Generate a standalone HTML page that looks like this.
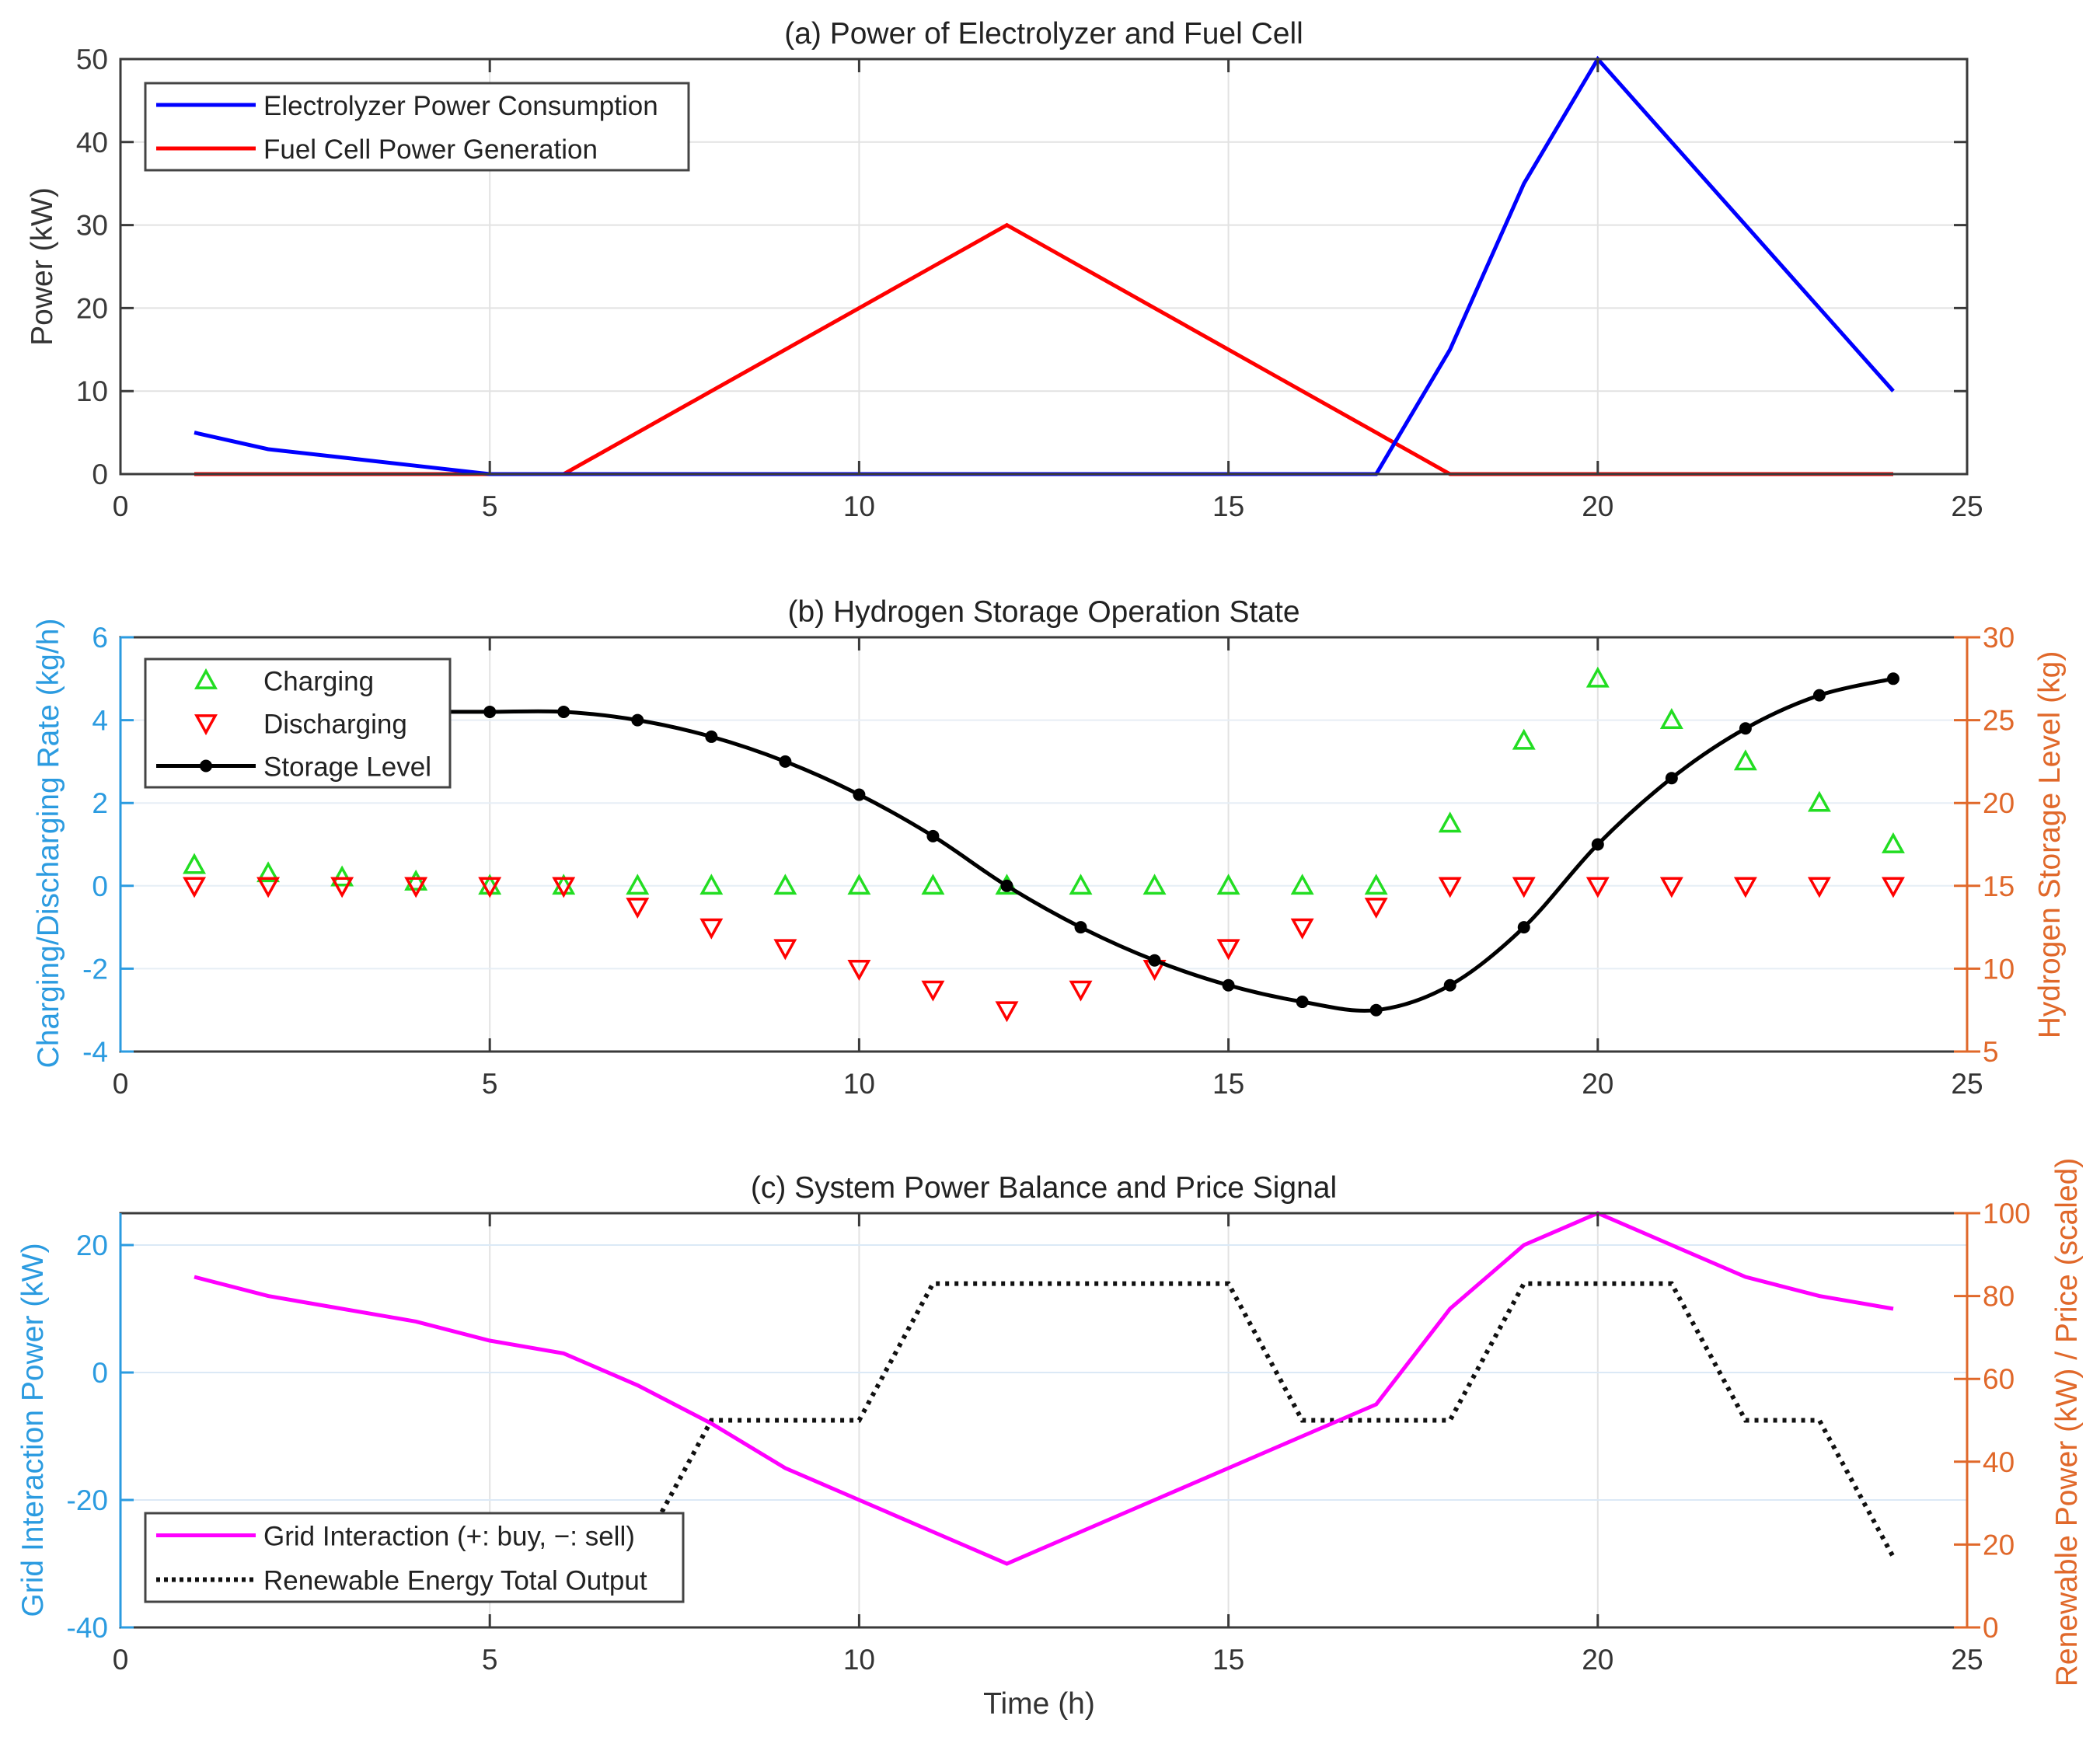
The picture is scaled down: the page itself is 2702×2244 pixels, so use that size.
<!DOCTYPE html>
<html><head><meta charset="utf-8"><style>
html,body{margin:0;padding:0;background:#fff}
svg{display:block;font-family:"Liberation Sans",Arial,sans-serif}
</style></head><body>
<svg id="chart" xmlns="http://www.w3.org/2000/svg" width="2702" height="2244" viewBox="0 0 2702 2244"></svg>
<script>
const hours=[1,2,3,4,5,6,7,8,9,10,11,12,13,14,15,16,17,18,19,20,21,22,23,24];
const xTicks=[0,5,10,15,20,25];
const electrolyzer=[5,3,2,1,0,0,0,0,0,0,0,0,0,0,0,0,0,15,35,50,40,30,20,10];
const fuelCell=[0,0,0,0,0,0,5,10,15,20,25,30,25,20,15,10,5,0,0,0,0,0,0,0];
const aTicks=[0,10,20,30,40,50];
const charging=[0.5,0.3,0.2,0.1,0,0,0,0,0,0,0,0,0,0,0,0,0,1.5,3.5,5,4,3,2,1];
const discharging=[0,0,0,0,0,0,-0.5,-1,-1.5,-2,-2.5,-3,-2.5,-2,-1.5,-1,-0.5,0,0,0,0,0,0,0];
const storageLevel=[25.5,25.5,25.5,25.5,25.5,25.5,25,24,22.5,20.5,18,15,12.5,10.5,9,8,7.5,9,12.5,17.5,21.5,24.5,26.5,27.5];
const bLeftTicks=[-4,-2,0,2,4,6];
const bRightTicks=[5,10,15,20,25,30];
const gridPower=[15,12,10,8,5,3,-2,-8,-15,-20,-25,-30,-25,-20,-15,-10,-5,10,20,25,20,15,12,10];
const renewable=[17,17,17,17,17,17,17,50,50,50,83,83,83,83,83,50,50,50,83,83,83,50,50,17];
const cLeftTicks=[-40,-20,0,20];
const cRightTicks=[0,20,40,60,80,100];

const svg=document.getElementById('chart');
const NS='http://www.w3.org/2000/svg';
function mk(tag,attrs,parent,text){const e=document.createElementNS(NS,tag);for(const k in attrs)e.setAttribute(k,attrs[k]);if(text!==undefined)e.textContent=text;(parent||svg).appendChild(e);return e;}
const L=155,R=2531;
const BLUE='#2b9be0',ORANGE='#e0682a',AX='#3a3a3a';
const xs=v=>L+(v-0)/25*(R-L);
function lin(d0,d1,p0,p1){return v=>p0+(v-d0)/(d1-d0)*(p1-p0);}

function panel(cfg){
  const g=mk('g',{});
  
  
  const {top,bot}=cfg;
  xTicks.forEach(t=>{const gl=mk('line',{x1:xs(t),x2:xs(t),y1:top,y2:bot,stroke:'#e2e2e2','stroke-width':2},g);});
  cfg.yTicks.forEach(t=>{const y=cfg.ys(t);const gl=mk('line',{x1:L,x2:R,y1:y,y2:y,stroke:cfg.gridColor,'stroke-width':2},g);});
  return g;
}
function frame(g,cfg){
  const {top,bot}=cfg;
  const box=mk('rect',{x:L,y:top,width:R-L,height:bot-top,fill:'none',stroke:AX,'stroke-width':3},g);
  
  xTicks.forEach(t=>{const x=xs(t);
    mk('line',{x1:x,x2:x,y1:bot,y2:bot-17,stroke:AX,'stroke-width':3},g);
    mk('line',{x1:x,x2:x,y1:top,y2:top+17,stroke:AX,'stroke-width':3},g);
    const tl=mk('text',{x:x,y:bot+54,'text-anchor':'middle','font-size':37,fill:'#333'},g,String(t));
    
  });
  const lc=cfg.leftColor;
  if(lc!==AX){mk('line',{x1:L,x2:L,y1:top,y2:bot,stroke:lc,'stroke-width':3},g);}
  cfg.yTicks.forEach(t=>{const y=cfg.ys(t);
    mk('line',{x1:L,x2:L+17,y1:y,y2:y,stroke:lc,'stroke-width':3},g);
    if(!cfg.ys2) mk('line',{x1:R,x2:R-17,y1:y,y2:y,stroke:AX,'stroke-width':3},g);
    const tl=mk('text',{x:L-16,y:y+13,'text-anchor':'end','font-size':37,fill:lc},g,String(t));
    
  });
  if(cfg.ys2){
    mk('line',{x1:R,x2:R,y1:top,y2:bot,stroke:ORANGE,'stroke-width':3},g);
    cfg.y2Ticks.forEach(t=>{const y=cfg.ys2(t);
      mk('line',{x1:R-17,x2:R+17,y1:y,y2:y,stroke:ORANGE,'stroke-width':3},g);
      const tl=mk('text',{x:R+20,y:y+13,'font-size':37,fill:ORANGE},g,String(t));
      
    });
  }
  const tt=mk('text',{x:(L+R)/2,y:top-20,'text-anchor':'middle','font-size':39,fill:'#222'},g,cfg.title);
  
}
function pathOf(vals,ys){return vals.map((v,i)=>(i?'L':'M')+xs(hours[i]).toFixed(1)+','+ys(v).toFixed(1)).join(' ');}
function smoothPath(vals,ys){
  const p=vals.map((v,i)=>[xs(hours[i]),ys(v)]);let d='M'+p[0][0]+','+p[0][1];
  for(let i=0;i<p.length-1;i++){const p0=p[Math.max(i-1,0)],p1=p[i],p2=p[i+1],p3=p[Math.min(i+2,p.length-1)];
    const c1=[p1[0]+(p2[0]-p0[0])/6,p1[1]+(p2[1]-p0[1])/6],c2=[p2[0]-(p3[0]-p1[0])/6,p2[1]-(p3[1]-p1[1])/6];
    d+=` C${c1[0].toFixed(1)},${c1[1].toFixed(1)} ${c2[0].toFixed(1)},${c2[1].toFixed(1)} ${p2[0].toFixed(1)},${p2[1].toFixed(1)}`;}
  return d;
}
function legend(g,x,y,w,h,items){
  const lg=mk('g',{},g);
  mk('rect',{x:x,y:y,width:w,height:h,fill:'#fff',stroke:'#444','stroke-width':3},lg);
  items.forEach((it,i)=>{const cy=y+(i+0.5)*h/items.length;
    const e=mk('g',{},lg);
    it.draw(e,x+14,x+142,cy);
    mk('text',{x:x+152,y:cy+13,'font-size':35,fill:'#222'},e,it.label);});
}
function tri(g,x,y,up,color){const s=12;const pts=up?`${x},${y-s} ${x-s},${y+s*0.8} ${x+s},${y+s*0.8}`:`${x},${y+s} ${x-s},${y-s*0.8} ${x+s},${y-s*0.8}`;return mk('polygon',{points:pts,fill:'none',stroke:color,'stroke-width':3.5},g);}

{const cfg={name:'panel-a',top:76,bot:610,yTicks:aTicks,gridColor:'#e2e2e2',leftColor:AX,title:'(a) Power of Electrolyzer and Fuel Cell'};
 cfg.ys=lin(0,50,cfg.bot,cfg.top);
 const g=panel(cfg);
 const p1=mk('path',{d:pathOf(fuelCell,cfg.ys),fill:'none',stroke:'#ff0000','stroke-width':5},g);
 const p2=mk('path',{d:pathOf(electrolyzer,cfg.ys),fill:'none',stroke:'#0000ff','stroke-width':5},g);
 frame(g,cfg);
 legend(g,187,107,699,112,[
  {label:'Electrolyzer Power Consumption',draw:(e,a,b,y)=>mk('line',{x1:a,x2:b,y1:y,y2:y,stroke:'#0000ff','stroke-width':5},e)},
  {label:'Fuel Cell Power Generation',draw:(e,a,b,y)=>mk('line',{x1:a,x2:b,y1:y,y2:y,stroke:'#ff0000','stroke-width':5},e)}]);
 const yl=mk('text',{transform:'translate(67,343) rotate(-90)','text-anchor':'middle','font-size':39,fill:'#333'},g,'Power (kW)');
 
}
{const cfg={name:'panel-b',top:820,bot:1353,yTicks:bLeftTicks,y2Ticks:bRightTicks,gridColor:'#e6eef5',leftColor:BLUE,title:'(b) Hydrogen Storage Operation State'};
 cfg.ys=lin(-4,6,cfg.bot,cfg.top);cfg.ys2=lin(5,30,cfg.bot,cfg.top);
 const g=panel(cfg);
 hours.forEach((h,i)=>{const t=tri(g,xs(h),cfg.ys(charging[i]),true,'#22dd22');});
 hours.forEach((h,i)=>{const t=tri(g,xs(h),cfg.ys(discharging[i]),false,'#ff0000');});
 const sl=mk('path',{d:smoothPath(storageLevel,cfg.ys2),fill:'none',stroke:'#000','stroke-width':5},g);
 hours.forEach((h,i)=>{const c=mk('circle',{cx:xs(h),cy:cfg.ys2(storageLevel[i]),r:8,fill:'#000'},g);});
 frame(g,cfg);
 legend(g,187,848,392,165,[
  {label:'Charging',draw:(e,a,b,y)=>tri(e,(a+b)/2,y,true,'#22dd22')},
  {label:'Discharging',draw:(e,a,b,y)=>tri(e,(a+b)/2,y,false,'#ff0000')},
  {label:'Storage Level',draw:(e,a,b,y)=>{mk('line',{x1:a,x2:b,y1:y,y2:y,stroke:'#000','stroke-width':5},e);mk('circle',{cx:(a+b)/2,cy:y,r:8,fill:'#000'},e);}}]);
 const yl=mk('text',{transform:'translate(75,1085) rotate(-90)','text-anchor':'middle','font-size':39,fill:BLUE},g,'Charging/Discharging Rate (kg/h)');
 
 const yr=mk('text',{transform:'translate(2650,1087) rotate(-90)','text-anchor':'middle','font-size':39,fill:ORANGE},g,'Hydrogen Storage Level (kg)');
 
}
{const cfg={name:'panel-c',top:1561,bot:2094,yTicks:cLeftTicks,y2Ticks:cRightTicks,gridColor:'#dbe9f6',leftColor:BLUE,title:'(c) System Power Balance and Price Signal'};
 cfg.ys=lin(-40,25,cfg.bot,cfg.top);cfg.ys2=lin(0,100,cfg.bot,cfg.top);
 const g=panel(cfg);
 const rn=mk('path',{d:pathOf(renewable,cfg.ys2),fill:'none',stroke:'#111','stroke-width':6,'stroke-dasharray':'5 7'},g);
 const gp=mk('path',{d:pathOf(gridPower,cfg.ys),fill:'none',stroke:'#ff00ff','stroke-width':5},g);
 frame(g,cfg);
 legend(g,187,1947,692,114,[
  {label:'Grid Interaction (+: buy, \u2212: sell)',draw:(e,a,b,y)=>mk('line',{x1:a,x2:b,y1:y,y2:y,stroke:'#ff00ff','stroke-width':5},e)},
  {label:'Renewable Energy Total Output',draw:(e,a,b,y)=>mk('line',{x1:a,x2:b,y1:y,y2:y,stroke:'#111','stroke-width':6,'stroke-dasharray':'5 5'},e)}]);
 const yl=mk('text',{transform:'translate(55,1840) rotate(-90)','text-anchor':'middle','font-size':39,fill:BLUE},g,'Grid Interaction Power (kW)');
 
 const yr=mk('text',{transform:'translate(2672,1830) rotate(-90)','text-anchor':'middle','font-size':39,fill:ORANGE},g,'Renewable Power (kW) / Price (scaled)');
 
 const xl=mk('text',{x:1337,y:2205,'text-anchor':'middle','font-size':39,fill:'#333'},g,'Time (h)');
 
}
</script>
</body></html>
